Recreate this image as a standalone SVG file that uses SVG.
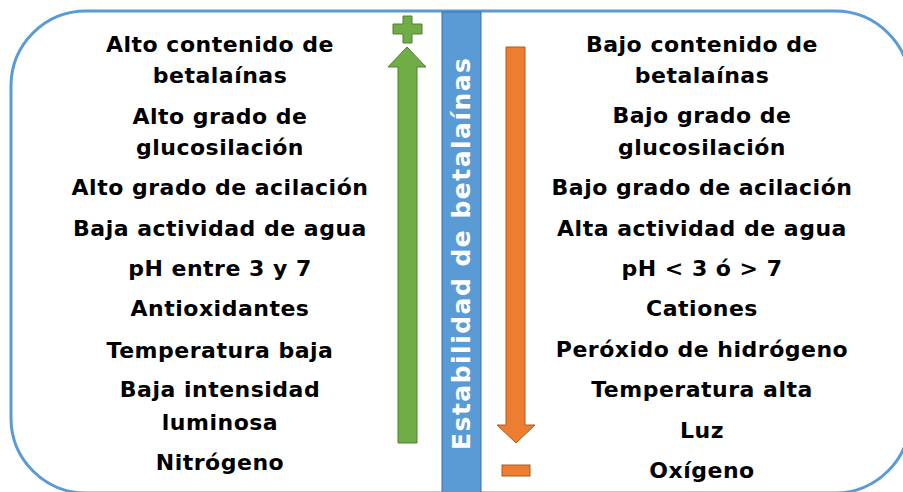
<svg xmlns="http://www.w3.org/2000/svg" width="903" height="492" viewBox="0 0 903 492">
<style>
.t{font-family:"DejaVu Sans","Liberation Sans",sans-serif;font-weight:bold;font-size:22px;fill:#000;text-anchor:middle;letter-spacing:0.5px}
.title{font-family:"DejaVu Sans","Liberation Sans",sans-serif;font-weight:bold;font-size:25px;fill:#fff;text-anchor:middle}
</style>
<rect width="903" height="492" fill="#fff"/>
<rect id="border" x="11" y="11" width="899" height="482" rx="75" ry="75" fill="none" stroke="#5B9BD5" stroke-width="3"/>
<g id="bar">
<rect x="442" y="12" width="39" height="485" fill="#5B9BD5" stroke="#41719C" stroke-width="1"/>
<text class="title" transform="translate(470,254) rotate(-90)" textLength="392" lengthAdjust="spacing">Estabilidad de betalaínas</text>
</g>
<g id="plus"><polygon points="403,16 412,16 412,24 422,24 422,34 412,34 412,43 403,43 403,34 393,34 393,24 403,24" fill="#70AD47" stroke="#507E32" stroke-width="1"/></g>
<g id="arrow-up"><polygon points="407,47 426,67 417,67 417,443 398,443 398,67 388,67" fill="#70AD47" stroke="#507E32" stroke-width="1"/></g>
<g id="arrow-down"><polygon points="506,47 525,47 525,425 535,425 516,443 497,425 506,425" fill="#ED7D31" stroke="#AE5A21" stroke-width="1"/></g>
<g id="minus"><rect x="502" y="465" width="28" height="11" fill="#ED7D31" stroke="#AE5A21" stroke-width="1"/></g>
<g id="left">
<text class="t" x="220" y="52">Alto contenido de</text>
<text class="t" x="220" y="83">betalaínas</text>
<text class="t" x="220" y="124">Alto grado de</text>
<text class="t" x="220" y="155">glucosilación</text>
<text class="t" x="220" y="195">Alto grado de acilación</text>
<text class="t" x="220" y="236">Baja actividad de agua</text>
<text class="t" x="220" y="276">pH entre 3 y 7</text>
<text class="t" x="220" y="316">Antioxidantes</text>
<text class="t" x="220" y="358">Temperatura baja</text>
<text class="t" x="220" y="397">Baja intensidad</text>
<text class="t" x="220" y="430">luminosa</text>
<text class="t" x="220" y="470">Nitrógeno</text>
</g>
<g id="right">
<text class="t" x="702" y="52">Bajo contenido de</text>
<text class="t" x="702" y="83">betalaínas</text>
<text class="t" x="702" y="123">Bajo grado de</text>
<text class="t" x="702" y="155">glucosilación</text>
<text class="t" x="702" y="195">Bajo grado de acilación</text>
<text class="t" x="702" y="236">Alta actividad de agua</text>
<text class="t" x="702" y="276">pH &lt; 3 ó &gt; 7</text>
<text class="t" x="702" y="316">Cationes</text>
<text class="t" x="702" y="357">Peróxido de hidrógeno</text>
<text class="t" x="702" y="397">Temperatura alta</text>
<text class="t" x="702" y="438">Luz</text>
<text class="t" x="702" y="478">Oxígeno</text>
</g>
</svg>
